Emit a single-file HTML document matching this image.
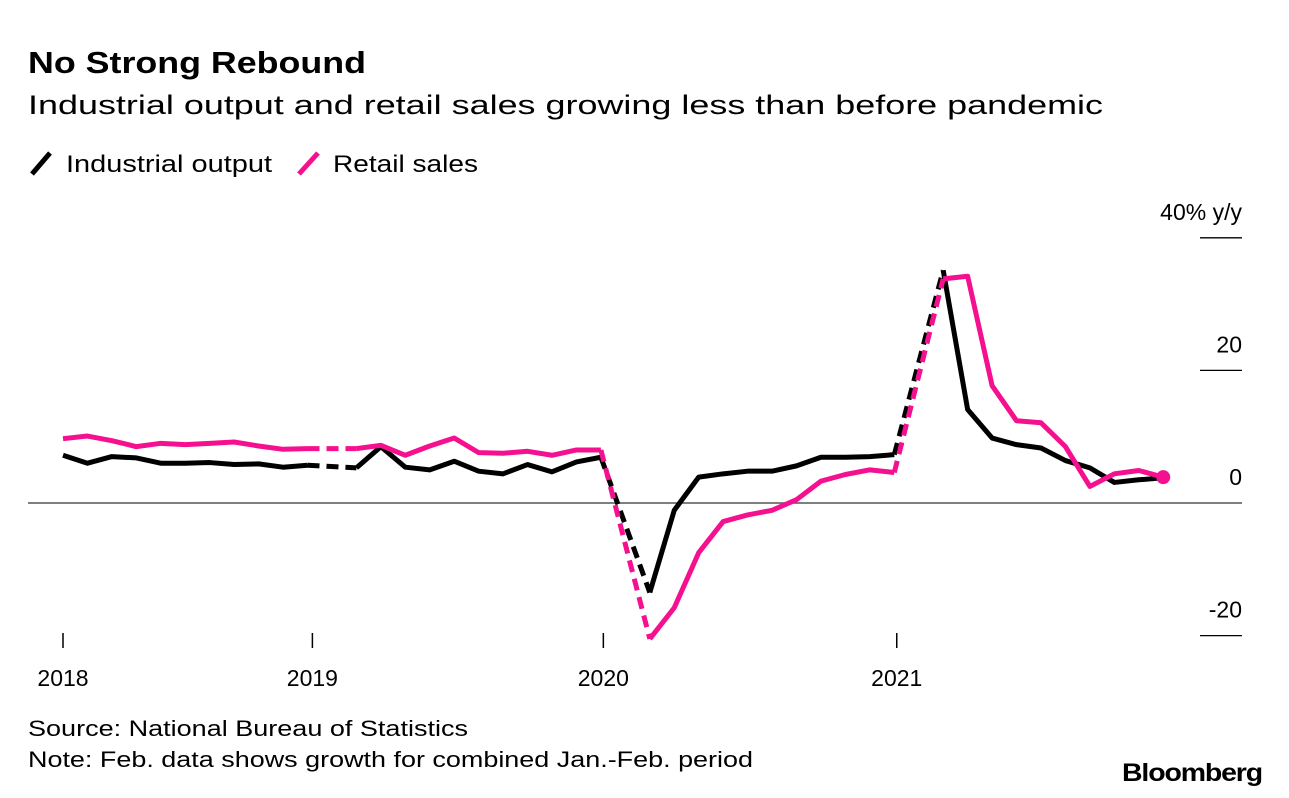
<!DOCTYPE html>
<html><head><meta charset="utf-8"><style>
html,body{margin:0;padding:0;background:#fff;}
svg{display:block;font-family:"Liberation Sans",Arial,sans-serif;}
</style></head><body>
<svg id="chart" width="1289" height="798" viewBox="0 0 1289 798">
<text x="28" y="73" font-size="31" font-weight="bold" textLength="338" lengthAdjust="spacingAndGlyphs">No Strong Rebound</text>
<text x="28" y="114" font-size="27" textLength="1075" lengthAdjust="spacingAndGlyphs">Industrial output and retail sales growing less than before pandemic</text>
<g>
<line x1="32" y1="174" x2="50" y2="153" stroke="#000" stroke-width="5"/>
<text x="66" y="172" font-size="24" textLength="206" lengthAdjust="spacingAndGlyphs">Industrial output</text>
<line x1="299" y1="174" x2="318" y2="153" stroke="#f5108f" stroke-width="5"/>
<text x="333" y="172" font-size="24" textLength="145" lengthAdjust="spacingAndGlyphs">Retail sales</text>
</g>
<g id="axes"></g>
<g id="series"></g>
<text x="28" y="736" font-size="22" textLength="440" lengthAdjust="spacingAndGlyphs">Source: National Bureau of Statistics</text>
<text x="28" y="767" font-size="22" textLength="725" lengthAdjust="spacingAndGlyphs">Note: Feb. data shows growth for combined Jan.-Feb. period</text>
<text x="1262" y="781" font-size="25" font-weight="bold" text-anchor="end" textLength="140" lengthAdjust="spacingAndGlyphs" letter-spacing="-1">Bloomberg</text>
</svg>
<script>
// month index k = months since Jan 1 2018 (point at end of month k, Feb 2018 = 2)
const monthsIdx = [2,3,4,5,6,7,8,9,10,11,12,14,15,16,17,18,19,20,21,22,23,24,26,27,28,29,30,31,32,33,34,35,36,38,39,40,41,42,43,44,45,46,47];
const industrial = [7.2,6.0,7.0,6.8,6.0,6.0,6.1,5.8,5.9,5.4,5.7,5.3,8.5,5.4,5.0,6.3,4.8,4.4,5.8,4.7,6.2,6.9,-13.5,-1.1,3.9,4.4,4.8,4.8,5.6,6.9,6.9,7.0,7.3,35.1,14.1,9.8,8.8,8.3,6.4,5.3,3.1,3.5,3.8];
const retail = [9.7,10.1,9.4,8.5,9.0,8.8,9.0,9.2,8.6,8.1,8.2,8.2,8.7,7.2,8.6,9.8,7.6,7.5,7.8,7.2,8.0,8.0,-20.5,-15.8,-7.5,-2.8,-1.8,-1.1,0.5,3.3,4.3,5.0,4.6,33.8,34.2,17.7,12.4,12.1,8.5,2.5,4.4,4.9,3.9];
const yTicks = [40,20,0,-20];
const yTickLabels = ["40% y/y","20","0","-20"];
const xTicks = [2,12.2,24.1,36.1];
const xTickLabels = ["2018","2019","2020","2021"];

const NS="http://www.w3.org/2000/svg";
const xS = k => 63 + (k-2)*24.45;
const yS = v => 503 - v*6.63;
function mk(tag, attrs, parent){const e=document.createElementNS(NS,tag);for(const a in attrs)e.setAttribute(a,attrs[a]);parent.appendChild(e);return e;}
const axes=document.getElementById('axes'), series=document.getElementById('series');

yTicks.forEach((v,i)=>{
  if(v!==0){
    const l=mk('line',{x1:1200,x2:1242,y1:yS(v),y2:yS(v),stroke:'#000','stroke-width':1.3},axes);
    
    
  }
  const t=mk('text',{x:1242,y:yS(v)-18,'font-size':23,'text-anchor':'end'},axes);
  t.textContent=yTickLabels[i];
  
  
});
const zl=mk('line',{x1:28,x2:1242,y1:yS(0),y2:yS(0),stroke:'#555','stroke-width':1.5},axes);



xTicks.forEach((k,i)=>{
  const x = xS(k);
  const l=mk('line',{x1:x,x2:x,y1:633,y2:648,stroke:'#000','stroke-width':1.5},axes);
  
  
  const t=mk('text',{x:x,y:686,'font-size':23,'text-anchor':'middle'},axes);
  t.textContent=xTickLabels[i];
  
  
});

function drawSeries(vals,color,name){
  let d='';
  for(let i=0;i<vals.length;i++){
    const x=xS(monthsIdx[i]), y=yS(vals[i]);
    if(i>0 && monthsIdx[i]-monthsIdx[i-1]>1){
      const dl=mk('line',{x1:xS(monthsIdx[i-1]),y1:yS(vals[i-1]),x2:x,y2:y,stroke:color,'stroke-width':5,'stroke-dasharray':'12 7'},series);
      
      
      d+='M'+x+' '+y;
    } else d+=(i===0?'M':'L')+x+' '+y;
  }
  const p=mk('path',{d:d,fill:'none',stroke:color,'stroke-width':5,'stroke-linejoin':'round'},series);
  
  
}
drawSeries(industrial,'#000','industrial-output');
drawSeries(retail,'#f5108f','retail-sales');
const n=retail.length-1;
const c=mk('circle',{cx:xS(monthsIdx[n]),cy:yS(retail[n]),r:7,fill:'#f5108f'},series);


</script>
</body></html>
